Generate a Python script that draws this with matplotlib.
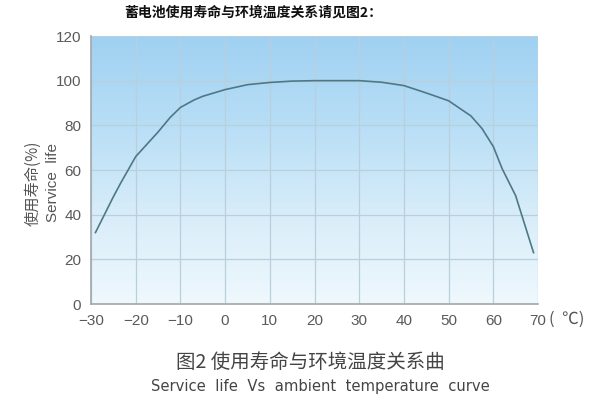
import matplotlib
matplotlib.use("Agg")
import matplotlib.pyplot as plt
import numpy as np
from matplotlib.colors import LinearSegmentedColormap

plt.rcParams['font.family'] = ['Noto Sans CJK SC', 'DejaVu Sans']

temps = [-29, -25, -23.4, -20, -15, -12.3, -10, -7, -5, 0, 5, 10, 15, 20, 25, 30, 35, 40, 45, 50, 55, 57.5, 60, 62, 65, 69]
life = [32, 48, 54, 66, 77, 83.5, 88, 91.3, 93, 96, 98.2, 99.2, 99.8, 100, 100, 100, 99.3, 97.8, 94.5, 91, 84.2, 78.5, 70.5, 60.5, 48.5, 23]
xticks = [-30, -20, -10, 0, 10, 20, 30, 40, 50, 60, 70]
yticks = [0, 20, 40, 60, 80, 100, 120]

title_text = "蓄电池使用寿命与环境温度关系请见图2："
caption_cn = "图2 使用寿命与环境温度关系曲"
caption_en = "Service  life  Vs  ambient  temperature  curve"

fig = plt.figure(figsize=(6, 4.07), dpi=100)
ax = fig.add_axes([91/600, 1-304/407, (538-91)/600, (304-36)/407])

cmap = LinearSegmentedColormap.from_list("bg", ["#eff8fd", "#d8edf9", "#b8def6", "#a0d1f2"])
grad = np.linspace(0, 1, 256).reshape(-1, 1)
ax.imshow(grad, extent=[0, 1, 0, 1], transform=ax.transAxes, cmap=cmap,
          origin="lower", aspect="auto", zorder=0)

ax.set_xlim(-30, 70)
ax.set_ylim(0, 120)
ax.set_xticks(xticks)
ax.set_yticks(yticks)
ax.set_xticklabels([str(t).replace("-", "−") for t in xticks])
ax.set_yticklabels([str(t) for t in yticks])
ax.grid(True, color="#b9cfdc", lw=0.9, zorder=1)

ax.plot(temps, life, color="#4f7886", lw=1.2, zorder=3)

for s in ["top", "right"]:
    ax.spines[s].set_visible(False)
for s in ["left", "bottom"]:
    ax.spines[s].set_color("#a0a8ad")
    ax.spines[s].set_linewidth(1.2)
ax.tick_params(length=0, colors="#555555", labelsize=11, pad=7)
for lab in ax.get_xticklabels() + ax.get_yticklabels():
    lab.set_color("#5a5a5a")
    lab.set_family(["Liberation Sans", "DejaVu Sans"])

fig.text(567/600, 1-319/407, "(  ℃)", ha="center", va="center", fontsize=12, color="#555555")

fig.text(33/600, 1-183/407, "使用寿命(%)", rotation=90, ha="center", va="center", fontsize=11, color="#555555")
fig.text(53/600, 1-183/407, "Service  life", rotation=90, ha="center", va="center", fontsize=11,
         color="#555555", family=["Liberation Sans", "DejaVu Sans"])

fig.text(253/600, 1-13/407, title_text, ha="center", va="center", fontsize=10, fontweight="bold", color="#111111")
fig.text(310/600, 1-362/407, caption_cn, ha="center", va="center", fontsize=14, color="#444444")
fig.text(320/600, 1-386/407, caption_en, ha="center", va="center", fontsize=10.6, color="#444444",
         family=["DejaVu Sans"])

fig.savefig("out.png", dpi=100)
